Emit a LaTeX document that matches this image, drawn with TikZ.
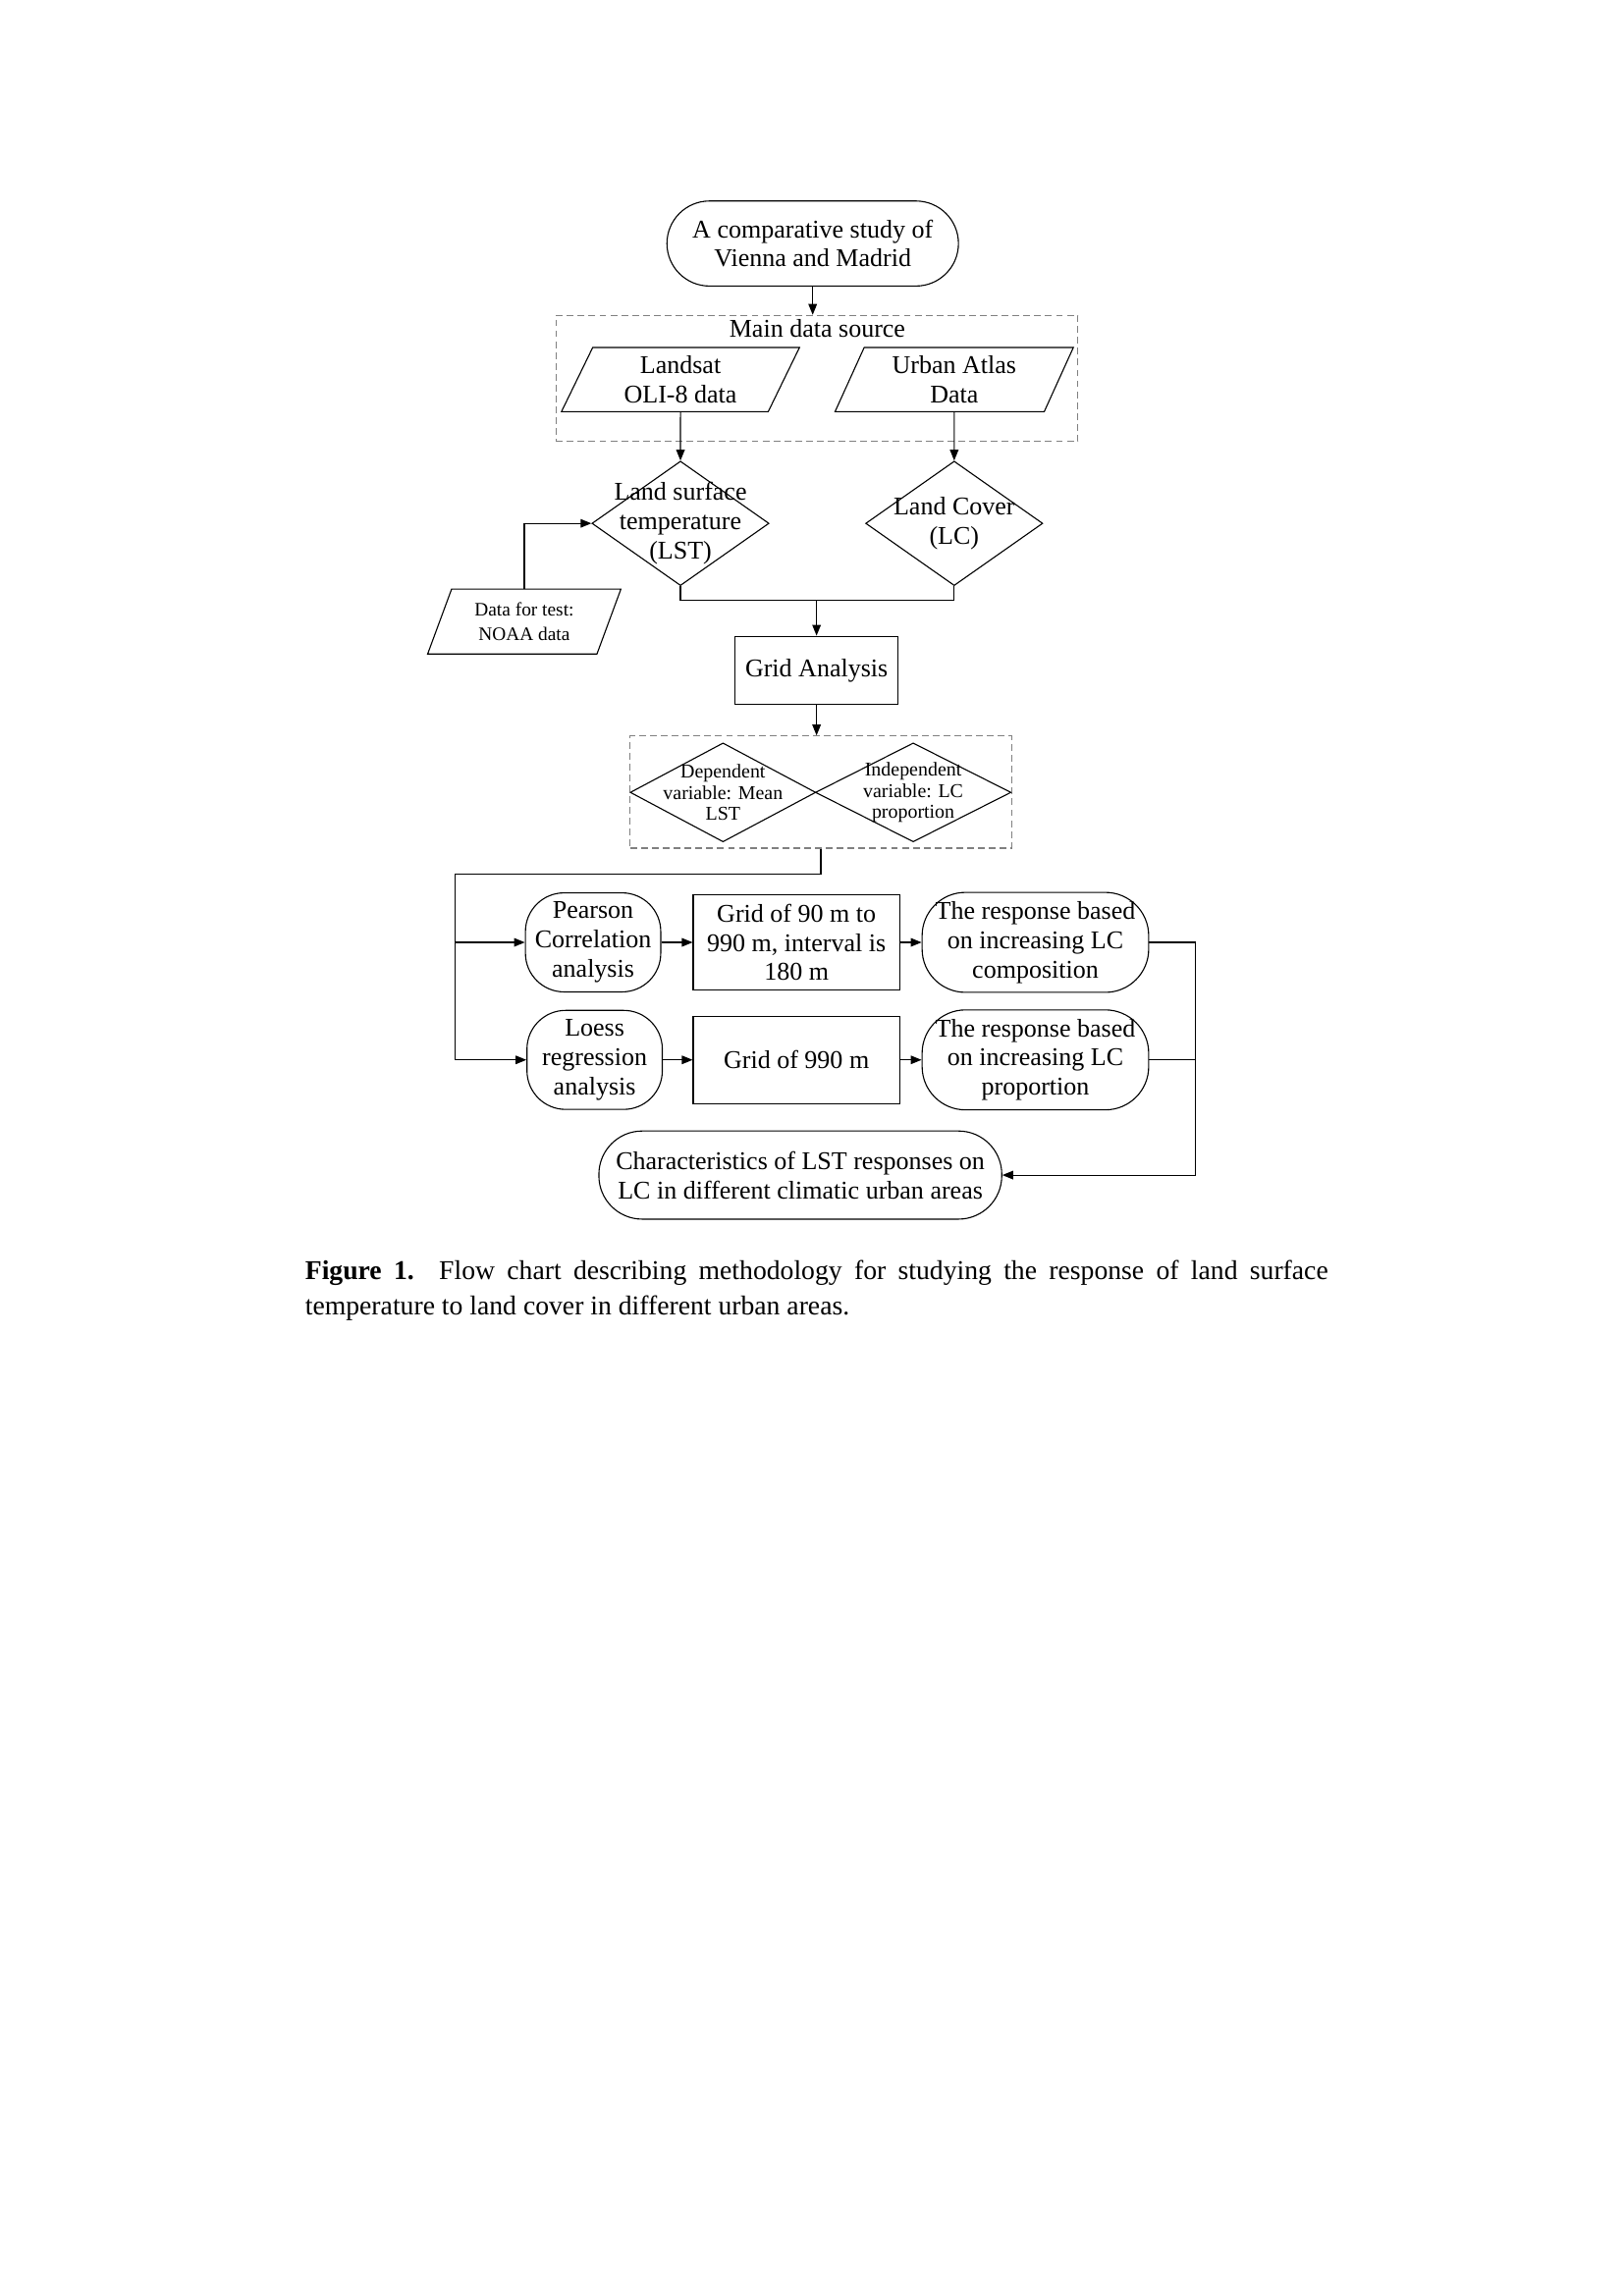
\documentclass[tikz,border=0pt]{standalone}
\usepackage{fontspec}
\setmainfont{Liberation Serif}
\usetikzlibrary{shapes.geometric,arrows.meta}

\begin{document}
\begin{tikzpicture}[
  txt/.style={font=\fontsize{9.4}{10.8}\selectfont, align=center},
  small/.style={font=\fontsize{7.2}{7.9}\selectfont, align=center},
  terminal/.style={draw, rounded corners=0.55cm, minimum width=3.77cm, minimum height=1.10cm, txt},
  roundbox/.style={draw, rounded corners=0.5cm, minimum height=1.14cm, txt},
  plainbox/.style={draw, minimum height=1.13cm, txt},
  iobox/.style={draw, trapezium, trapezium left angle=67, trapezium right angle=113,
    trapezium stretches=true, minimum width=3.09cm, minimum height=0.83cm, inner sep=0pt, txt},
  decision/.style={draw, diamond, inner sep=0pt},
  groupbox/.style={draw=gray, dash pattern=on 2.5pt off 1.5pt, inner sep=0pt},
  arrow/.style={-{Triangle[length=1.4mm, width=1.1mm]}},
  line width=0.4pt
]
\useasboundingbox (0,0) rectangle (21,-29.7);

% top
\node[terminal] (start) at (10.51,-3.15) {A comparative study of\\Vienna and Madrid};

% main data source
\node[groupbox, minimum width=6.75cm, minimum height=1.63cm] (srcbox) at (10.565,-4.895) {};
\node[txt] (srclabel) at (10.57,-4.25) {Main data source};
\node[iobox] (landsat) at (8.80,-4.91) {Landsat\\OLI-8 data};
\node[iobox] (atlas) at (12.34,-4.91) {Urban Atlas\\Data};

% derived variables
\node[decision, minimum width=2.29cm, minimum height=1.61cm] (lst) at (8.80,-6.77) {};
\node[txt] (lsttext) at (lst) {Land surface\\temperature\\(LST)};
\node[decision, minimum width=2.29cm, minimum height=1.61cm] (lc) at (12.34,-6.77) {};
\node[txt] (lctext) at (lc) {Land Cover\\(LC)};
\node[iobox, minimum width=2.51cm, minimum height=0.84cm, font=\fontsize{7}{9.2}\selectfont] (noaa) at (6.78,-8.04) {Data for test:\\NOAA data};

\coordinate (merge) at (10.56,-7.77);
\node[plainbox, minimum width=2.11cm, minimum height=0.88cm] (grid) at (10.56,-8.67) {Grid Analysis};

% variables
\node[groupbox, minimum width=4.93cm, minimum height=1.45cm] (varbox) at (10.615,-10.245) {};
\node[decision, minimum width=2.40cm, minimum height=1.28cm] (dep) at (9.35,-10.25) {};
\node[small] (deptext) at (dep) {Dependent\\variable: Mean\\LST};
\node[decision, minimum width=2.53cm, minimum height=1.28cm] (indep) at (11.81,-10.25) {};
\node[small] (indeptext) at (indep) {Independent\\variable: LC\\proportion};

% analyses
\coordinate (fork) at (5.88,-11.31);
\node[roundbox, minimum width=1.75cm] (pearson) at (7.67,-12.19) {Pearson\\Correlation\\analysis};
\node[plainbox, minimum width=2.67cm] (grid90) at (10.30,-12.19) {Grid of 90 m to\\990 m, interval is\\180 m};
\node[roundbox, rounded corners=0.56cm, minimum width=2.93cm] (resp1) at (13.39,-12.19) {The response based\\on increasing LC\\composition};
\node[roundbox, minimum width=1.75cm] (loess) at (7.69,-13.71) {Loess\\regression\\analysis};
\node[plainbox, minimum width=2.67cm] (grid990) at (10.30,-13.71) {Grid of 990 m};
\node[roundbox, rounded corners=0.56cm, minimum width=2.93cm] (resp2) at (13.39,-13.71) {The response based\\on increasing LC\\proportion};

\coordinate (bus) at (15.46,-12.19);
\node[roundbox, rounded corners=0.56cm, minimum width=5.21cm] (result) at (10.35,-15.20) {Characteristics of LST responses on\\LC in different climatic urban areas};

% connectors
\draw[arrow] (start.south) -- (start.south |- srcbox.north);
\draw[arrow] (landsat.south) -- (lst.north);
\draw[arrow] (atlas.south) -- (lc.north);
\draw[arrow] (noaa.north) |- (lst.west);
\draw (lst.south) |- (merge) -| (lc.south);
\draw[arrow] (merge) -- (grid.north);
\draw[arrow] (grid.south) -- (grid.south |- varbox.north);
\draw (varbox.south) |- (fork);
\draw[arrow] (fork) |- (pearson.west);
\draw[arrow] (fork) |- (loess.west);
\draw[arrow] (pearson.east) -- (grid90.west);
\draw[arrow] (grid90.east) -- (resp1.west);
\draw[arrow] (loess.east) -- (grid990.west);
\draw[arrow] (grid990.east) -- (resp2.west);
\draw (resp1.east) -- (bus);
\draw (resp2.east) -- (bus |- resp2.east);
\draw[arrow] (bus) |- (result.east);

% caption
\node[anchor=north west, text width=13.23cm, align=justify, inner sep=0pt,
  font=\fontsize{10}{13}\selectfont] (caption) at (3.94,-16.30)
  {\textbf{Figure 1.} Flow chart describing methodology for studying the response of land surface\linebreak
   temperature to land cover in different urban areas.};
\end{tikzpicture}
\end{document}
